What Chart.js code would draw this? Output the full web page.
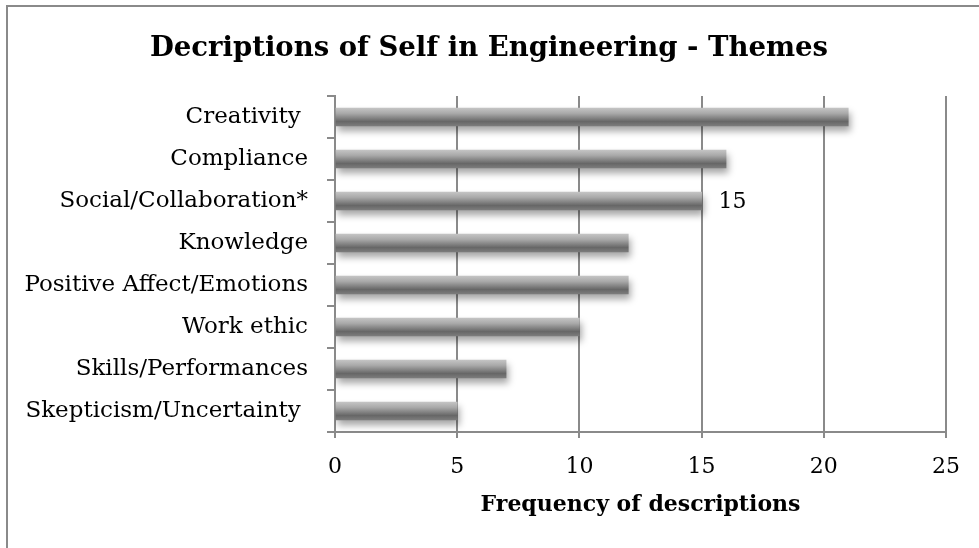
<!DOCTYPE html>
<html lang="en">
<head>
    <meta charset="UTF-8">
    <title>Decriptions of Self in Engineering - Themes</title>
    <script src="https://cdn.jsdelivr.net/npm/chart.js"></script>
    <style>
        body, html {
            margin: 0;
            padding: 0;
            width: 979px;
            height: 548px;
            overflow: hidden;
            background: #fff;
        }
        .frame {
            position: absolute;
            left: 6px;
            top: 5px;
            width: 1200px;
            height: 800px;
            border: 2px solid #8a8a8a;
        }
        .chart-box {
            position: absolute;
            left: 0;
            top: 0;
            width: 979px;
            height: 548px;
        }
    </style>
</head>
<body>
    <div class="frame"></div>
    <div class="chart-box">
        <canvas id="themeChart" width="979" height="548"></canvas>
    </div>
    <script>
      const themes = [
        'Creativity ',
        'Compliance',
        'Social/Collaboration*',
        'Knowledge',
        'Positive Affect/Emotions',
        'Work ethic',
        'Skills/Performances',
        'Skepticism/Uncertainty '
      ];
      const frequencies = [21, 16, 15, 12, 12, 10, 7, 5];
      const showValue = [false, false, true, false, false, false, false, false];
      const xTicks = [0, 5, 10, 15, 20, 25];

      const serif = "'DejaVu Serif', 'Liberation Serif', serif";
      const gridGray = '#8a8a8a';
      const barSize = 18;
      const sidePad = 16;

      // cylinder-like shading across each bar
      function barFill(context) {
        const chart = context.chart;
        if (!chart.chartArea) return '#999';
        const yc = chart.scales.y.getPixelForValue(context.dataIndex);
        const g = chart.ctx.createLinearGradient(0, yc - barSize / 2, 0, yc + barSize / 2);
        g.addColorStop(0, '#c4c4c4');
        g.addColorStop(0.3, '#a9a9a9');
        g.addColorStop(0.75, '#676767');
        g.addColorStop(1, '#7c7c7c');
        return g;
      }

      const barShadow = {
        id: 'barShadow',
        beforeDatasetsDraw(chart) {
          const c = chart.ctx;
          c.save();
          c.shadowColor = 'rgba(0, 0, 0, 0.35)';
          c.shadowBlur = 7;
          c.shadowOffsetX = 2;
          c.shadowOffsetY = 5;
        },
        afterDatasetsDraw(chart) {
          chart.ctx.restore();
        }
      };

      const valueLabels = {
        id: 'valueLabels',
        afterDraw(chart) {
          const c = chart.ctx;
          const meta = chart.getDatasetMeta(0);
          c.save();
          c.font = '22px ' + serif;
          c.fillStyle = '#000';
          c.textAlign = 'left';
          c.textBaseline = 'middle';
          meta.data.forEach((bar, i) => {
            if (!showValue[i]) return;
            c.fillText(String(frequencies[i]), bar.x + 17, bar.y + 1);
          });
          c.restore();
        }
      };

      new Chart(document.getElementById('themeChart').getContext('2d'), {
        type: 'bar',
        data: {
          labels: themes,
          datasets: [{
            data: frequencies,
            backgroundColor: barFill,
            borderWidth: 0,
            barThickness: barSize
          }]
        },
        plugins: [barShadow, valueLabels],
        options: {
          indexAxis: 'y',
          responsive: false,
          animation: false,
          layout: {
            padding: { left: sidePad, right: sidePad + 1, top: 0, bottom: 30 }
          },
          plugins: {
            legend: { display: false },
            tooltip: { enabled: false },
            title: {
              display: true,
              text: 'Decriptions of Self in Engineering - Themes',
              color: '#000',
              font: { family: serif, size: 27.5, weight: 'bold' },
              padding: { top: 32, bottom: 31 }
            }
          },
          scales: {
            x: {
              min: 0,
              max: 25,
              afterBuildTicks(scale) {
                scale.ticks = xTicks.map(v => ({ value: v }));
              },
              afterFit(scale) {
                scale.height = 86;
              },
              border: { color: gridGray, width: 2 },
              grid: {
                color: gridGray,
                lineWidth: 2,
                tickLength: 6
              },
              ticks: {
                color: '#000',
                padding: 16,
                font: { family: serif, size: 22 }
              },
              title: {
                display: true,
                text: 'Frequency of descriptions',
                color: '#000',
                font: { family: serif, size: 22, weight: 'bold' },
                padding: { top: 11, bottom: 0 }
              }
            },
            y: {
              afterFit(scale) {
                scale.width = 335 - sidePad;
              },
              border: { color: gridGray, width: 2 },
              grid: {
                color: gridGray,
                lineWidth: 2,
                drawOnChartArea: false,
                tickLength: 8
              },
              ticks: {
                color: '#000',
                padding: 19,
                font: { family: serif, size: 23 }
              }
            },
            // empty right-hand strip so the plot ends at the same place
            yRight: {
              type: 'category',
              axis: 'y',
              position: 'right',
              afterFit(scale) {
                scale.width = 33 - sidePad - 1;
              },
              border: { display: false },
              grid: { display: false },
              ticks: { display: false }
            }
          }
        }
      });
    </script>
</body>
</html>
